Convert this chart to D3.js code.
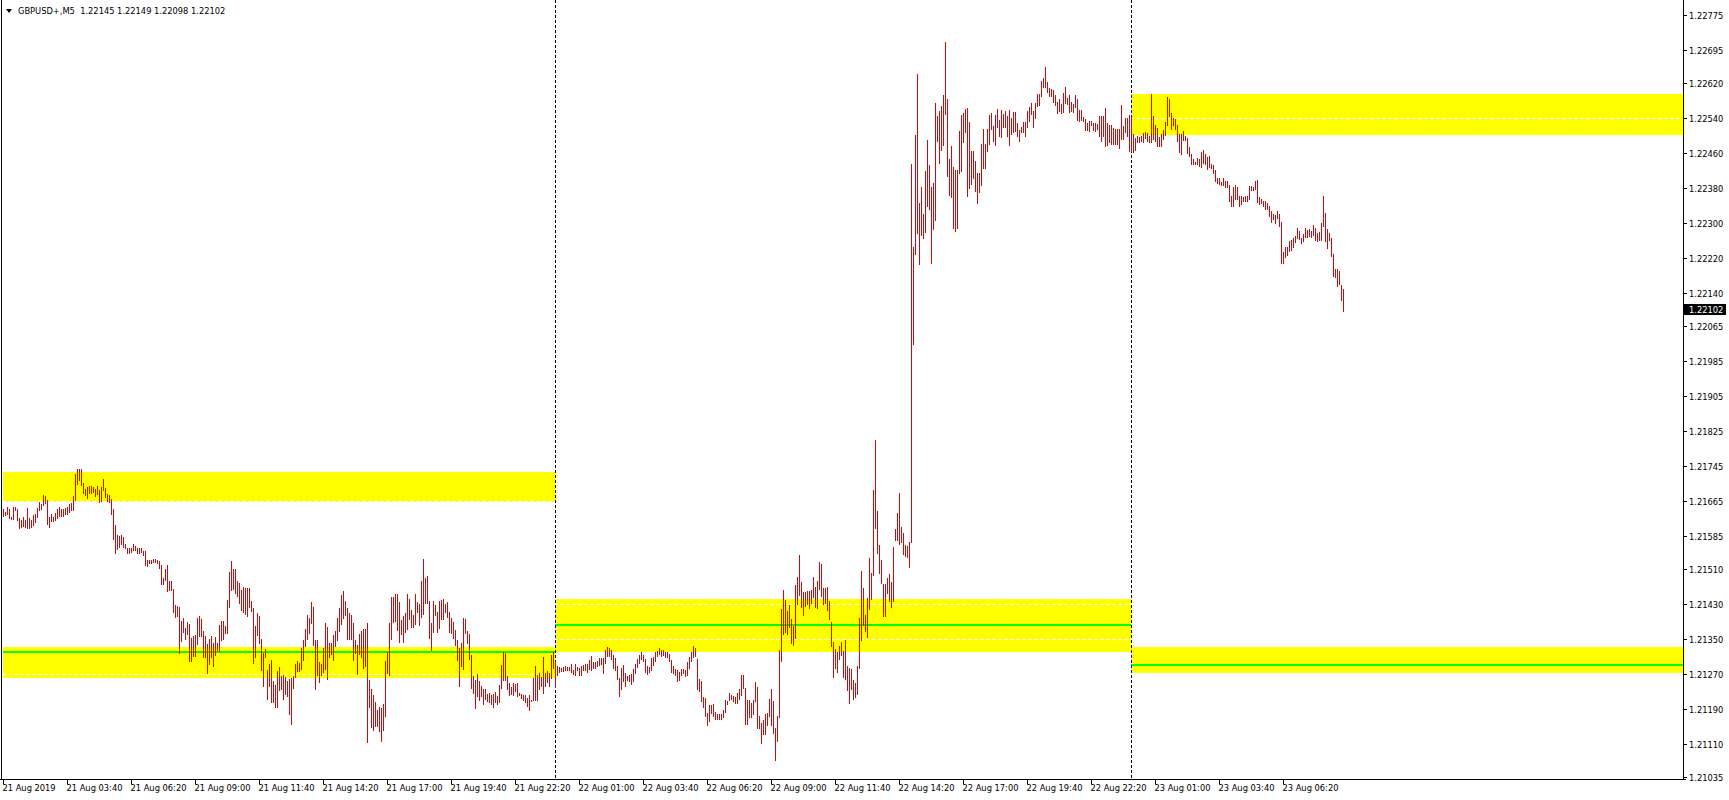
<!DOCTYPE html>
<html><head><meta charset="utf-8">
<script src="https://cdn.jsdelivr.net/npm/d3@7"></script>
<style>
html,body{margin:0;padding:0;background:#fff;overflow:hidden}
svg{display:block}
text{font-family:"DejaVu Sans",sans-serif;font-size:8.3px;fill:#000}
</style></head><body>
<svg id="chart" width="1729" height="800"></svg>
<script>
// ---------------- data ----------------
const symbol = "GBPUSD+,M5";
const lastOHLC = [1.22145, 1.22149, 1.22098, 1.22102];
const currentPrice = 1.22102;
// M5 bars, bar 0 = 21 Aug 2019 01:00
const highs = [
1.21647,1.21640,1.21650,1.21647,1.21629,1.21651,1.21650,1.21647,1.21626,1.21620,
1.21628,1.21620,1.21649,1.21626,1.21620,1.21632,1.21635,1.21649,1.21661,1.21658,
1.21679,1.21676,1.21666,1.21628,1.21635,1.21628,1.21636,1.21647,1.21651,1.21647,
1.21647,1.21649,1.21651,1.21658,1.21659,1.21676,1.21727,1.21738,1.21738,1.21738,
1.21705,1.21691,1.21697,1.21699,1.21698,1.21696,1.21691,1.21699,1.21690,1.21697,
1.21715,1.21695,1.21680,1.21677,1.21670,1.21646,1.21610,1.21586,1.21585,1.21586,
1.21583,1.21567,1.21557,1.21557,1.21557,1.21566,1.21561,1.21557,1.21557,1.21557,
1.21551,1.21551,1.21529,1.21530,1.21529,1.21531,1.21532,1.21530,1.21527,1.21519,
1.21488,1.21510,1.21519,1.21481,1.21481,1.21464,1.21426,1.21424,1.21422,1.21391,
1.21398,1.21375,1.21388,1.21384,1.21352,1.21356,1.21359,1.21397,1.21401,1.21395,
1.21368,1.21356,1.21337,1.21349,1.21356,1.21341,1.21353,1.21341,1.21381,1.21390,
1.21390,1.21380,1.21438,1.21502,1.21527,1.21509,1.21509,1.21481,1.21476,1.21462,
1.21468,1.21466,1.21466,1.21466,1.21436,1.21419,1.21379,1.21409,1.21402,1.21349,
1.21317,1.21327,1.21279,1.21292,1.21301,1.21254,1.21244,1.21276,1.21285,1.21265,
1.21267,1.21263,1.21254,1.21259,1.21260,1.21265,1.21292,1.21300,1.21295,1.21329,
1.21347,1.21372,1.21404,1.21397,1.21434,1.21422,1.21346,1.21347,1.21297,1.21292,
1.21329,1.21385,1.21376,1.21339,1.21339,1.21359,1.21368,1.21397,1.21419,1.21450,
1.21459,1.21436,1.21419,1.21409,1.21403,1.21386,1.21346,1.21336,1.21361,1.21368,
1.21372,1.21373,1.21385,1.21256,1.21235,1.21221,1.21206,1.21187,1.21193,1.21191,
1.21201,1.21300,1.21319,1.21386,1.21445,1.21446,1.21451,1.21453,1.21434,1.21393,
1.21402,1.21409,1.21453,1.21441,1.21416,1.21405,1.21452,1.21434,1.21429,1.21482,
1.21533,1.21489,1.21493,1.21435,1.21386,1.21437,1.21427,1.21410,1.21436,1.21438,
1.21441,1.21429,1.21434,1.21410,1.21397,1.21389,1.21369,1.21347,1.21329,1.21340,
1.21397,1.21395,1.21368,1.21361,1.21313,1.21265,1.21256,1.21269,1.21254,1.21241,
1.21234,1.21236,1.21223,1.21225,1.21221,1.21224,1.21228,1.21218,1.21244,1.21290,
1.21320,1.21317,1.21265,1.21248,1.21240,1.21248,1.21247,1.21248,1.21226,1.21223,
1.21221,1.21221,1.21215,1.21221,1.21210,1.21260,1.21288,1.21267,1.21272,1.21263,
1.21307,1.21272,1.21277,1.21272,1.21313,1.21320,1.21298,1.21288,1.21286,1.21284,
1.21286,1.21288,1.21285,1.21286,1.21293,1.21278,1.21292,1.21285,1.21282,1.21288,
1.21291,1.21292,1.21292,1.21301,1.21310,1.21297,1.21297,1.21298,1.21305,1.21306,
1.21306,1.21324,1.21331,1.21328,1.21323,1.21313,1.21306,1.21288,1.21260,1.21283,
1.21290,1.21272,1.21265,1.21266,1.21269,1.21281,1.21292,1.21303,1.21313,1.21320,
1.21312,1.21303,1.21288,1.21286,1.21306,1.21309,1.21319,1.21321,1.21329,1.21325,
1.21324,1.21320,1.21319,1.21314,1.21301,1.21288,1.21281,1.21279,1.21274,1.21281,
1.21281,1.21278,1.21297,1.21308,1.21319,1.21333,1.21328,1.21303,1.21258,1.21254,
1.21217,1.21215,1.21181,1.21199,1.21198,1.21201,1.21183,1.21177,1.21177,1.21177,
1.21187,1.21209,1.21208,1.21227,1.21222,1.21218,1.21216,1.21227,1.21234,1.21267,
1.21266,1.21238,1.21209,1.21210,1.21204,1.21209,1.21250,1.21239,1.21174,1.21158,
1.21165,1.21178,1.21180,1.21213,1.21234,1.21208,1.21146,1.21173,1.21324,1.21418,
1.21461,1.21439,1.21414,1.21428,1.21395,1.21380,1.21473,1.21491,1.21542,1.21479,
1.21456,1.21456,1.21459,1.21458,1.21462,1.21490,1.21468,1.21481,1.21526,1.21520,
1.21465,1.21466,1.21468,1.21435,1.21389,1.21343,1.21326,1.21320,1.21333,1.21342,
1.21322,1.21346,1.21288,1.21283,1.21280,1.21255,1.21248,1.21287,1.21397,1.21505,
1.21466,1.21404,1.21442,1.21535,1.21501,1.21689,1.21804,1.21642,1.21564,1.21529,
1.21474,1.21474,1.21489,1.21498,1.21479,1.21560,1.21601,1.21636,1.21683,1.21606,
1.21591,1.21565,1.21561,1.21571,1.22435,1.22244,1.22501,1.22640,1.22345,1.22382,
1.22320,1.22418,1.22488,1.22432,1.22382,1.22390,1.22574,1.22544,1.22555,1.22567,
1.22591,1.22713,1.22583,1.22445,1.22476,1.22428,1.22421,1.22421,1.22510,1.22546,
1.22551,1.22560,1.22562,1.22531,1.22464,1.22464,1.22441,1.22414,1.22414,1.22480,
1.22513,1.22480,1.22514,1.22547,1.22551,1.22521,1.22545,1.22560,1.22535,1.22558,
1.22549,1.22554,1.22544,1.22557,1.22539,1.22553,1.22553,1.22528,1.22512,1.22519,
1.22529,1.22529,1.22556,1.22564,1.22573,1.22556,1.22573,1.22595,1.22593,1.22624,
1.22630,1.22656,1.22621,1.22608,1.22605,1.22604,1.22592,1.22576,1.22582,1.22571,
1.22597,1.22610,1.22585,1.22592,1.22576,1.22570,1.22592,1.22583,1.22557,1.22558,
1.22541,1.22537,1.22527,1.22532,1.22533,1.22528,1.22528,1.22526,1.22544,1.22544,
1.22544,1.22563,1.22528,1.22524,1.22522,1.22517,1.22515,1.22513,1.22515,1.22569,
1.22521,1.22538,1.22540,1.22545,1.22541,1.22503,1.22494,1.22497,1.22495,1.22497,
1.22504,1.22506,1.22505,1.22498,1.22594,1.22544,1.22523,1.22516,1.22496,1.22503,
1.22512,1.22529,1.22588,1.22583,1.22551,1.22540,1.22536,1.22524,1.22503,1.22503,
1.22510,1.22499,1.22494,1.22473,1.22457,1.22446,1.22439,1.22448,1.22446,1.22462,
1.22465,1.22457,1.22449,1.22452,1.22435,1.22432,1.22421,1.22403,1.22403,1.22394,
1.22402,1.22396,1.22395,1.22385,1.22362,1.22382,1.22385,1.22382,1.22361,1.22360,
1.22359,1.22361,1.22360,1.22384,1.22384,1.22382,1.22396,1.22398,1.22359,1.22353,
1.22350,1.22350,1.22345,1.22338,1.22327,1.22319,1.22317,1.22326,1.22320,1.22302,
1.22234,1.22244,1.22245,1.22259,1.22261,1.22264,1.22270,1.22287,1.22282,1.22265,
1.22275,1.22288,1.22284,1.22286,1.22280,1.22294,1.22289,1.22277,1.22278,1.22299,
1.22361,1.22322,1.22286,1.22276,1.22265,1.22229,1.22195,1.22194,1.22190,1.22158,
1.22149];
const lows = [
1.21631,1.21633,1.21634,1.21625,1.21624,1.21624,1.21644,1.21621,1.21602,1.21604,
1.21607,1.21605,1.21602,1.21602,1.21605,1.21610,1.21616,1.21627,1.21644,1.21645,
1.21656,1.21660,1.21613,1.21606,1.21618,1.21618,1.21621,1.21626,1.21631,1.21631,
1.21631,1.21634,1.21635,1.21640,1.21644,1.21644,1.21667,1.21704,1.21713,1.21701,
1.21682,1.21677,1.21672,1.21682,1.21683,1.21686,1.21676,1.21681,1.21662,1.21665,
1.21690,1.21674,1.21664,1.21663,1.21634,1.21577,1.21545,1.21554,1.21559,1.21567,
1.21559,1.21557,1.21545,1.21545,1.21548,1.21553,1.21553,1.21545,1.21545,1.21548,
1.21540,1.21518,1.21515,1.21522,1.21522,1.21525,1.21526,1.21522,1.21512,1.21475,
1.21475,1.21484,1.21459,1.21461,1.21462,1.21412,1.21399,1.21401,1.21318,1.21344,
1.21366,1.21350,1.21360,1.21299,1.21299,1.21311,1.21311,1.21337,1.21355,1.21355,
1.21307,1.21307,1.21272,1.21292,1.21309,1.21288,1.21313,1.21323,1.21322,1.21346,
1.21349,1.21363,1.21364,1.21423,1.21461,1.21464,1.21454,1.21448,1.21432,1.21416,
1.21410,1.21406,1.21402,1.21423,1.21414,1.21295,1.21307,1.21358,1.21339,1.21278,
1.21243,1.21308,1.21213,1.21243,1.21206,1.21206,1.21193,1.21193,1.21233,1.21234,
1.21212,1.21224,1.21218,1.21179,1.21154,1.21238,1.21263,1.21276,1.21276,1.21281,
1.21302,1.21333,1.21349,1.21362,1.21385,1.21335,1.21236,1.21266,1.21252,1.21267,
1.21274,1.21280,1.21257,1.21307,1.21316,1.21302,1.21333,1.21347,1.21368,1.21384,
1.21398,1.21405,1.21349,1.21349,1.21349,1.21301,1.21317,1.21270,1.21314,1.21308,
1.21284,1.21288,1.21113,1.21195,1.21149,1.21141,1.21150,1.21150,1.21138,1.21117,
1.21142,1.21174,1.21272,1.21266,1.21349,1.21388,1.21391,1.21370,1.21343,1.21360,
1.21342,1.21366,1.21373,1.21394,1.21377,1.21376,1.21384,1.21410,1.21381,1.21400,
1.21407,1.21432,1.21431,1.21352,1.21323,1.21365,1.21403,1.21366,1.21374,1.21396,
1.21395,1.21410,1.21399,1.21365,1.21363,1.21352,1.21335,1.21301,1.21241,1.21288,
1.21280,1.21363,1.21341,1.21303,1.21238,1.21225,1.21192,1.21218,1.21209,1.21220,
1.21201,1.21212,1.21207,1.21205,1.21200,1.21195,1.21206,1.21201,1.21206,1.21237,
1.21256,1.21255,1.21234,1.21222,1.21224,1.21222,1.21231,1.21218,1.21221,1.21215,
1.21210,1.21206,1.21197,1.21188,1.21208,1.21209,1.21209,1.21209,1.21235,1.21242,
1.21225,1.21241,1.21250,1.21241,1.21260,1.21282,1.21239,1.21266,1.21275,1.21276,
1.21277,1.21279,1.21278,1.21279,1.21273,1.21269,1.21268,1.21279,1.21268,1.21268,
1.21279,1.21278,1.21275,1.21280,1.21279,1.21283,1.21283,1.21288,1.21291,1.21293,
1.21272,1.21295,1.21310,1.21310,1.21304,1.21284,1.21279,1.21258,1.21220,1.21235,
1.21253,1.21243,1.21255,1.21253,1.21247,1.21254,1.21272,1.21285,1.21295,1.21304,
1.21300,1.21275,1.21270,1.21274,1.21279,1.21290,1.21300,1.21310,1.21316,1.21310,
1.21313,1.21309,1.21307,1.21298,1.21274,1.21272,1.21267,1.21253,1.21256,1.21268,
1.21271,1.21264,1.21266,1.21284,1.21300,1.21309,1.21311,1.21235,1.21231,1.21208,
1.21194,1.21174,1.21153,1.21163,1.21180,1.21173,1.21167,1.21167,1.21167,1.21167,
1.21172,1.21183,1.21201,1.21210,1.21212,1.21207,1.21202,1.21202,1.21212,1.21222,
1.21238,1.21155,1.21155,1.21170,1.21170,1.21178,1.21207,1.21145,1.21145,1.21112,
1.21133,1.21133,1.21153,1.21174,1.21152,1.21135,1.21072,1.21117,1.21172,1.21298,
1.21361,1.21365,1.21361,1.21376,1.21341,1.21335,1.21352,1.21430,1.21449,1.21423,
1.21403,1.21425,1.21430,1.21420,1.21432,1.21446,1.21423,1.21419,1.21464,1.21447,
1.21429,1.21431,1.21416,1.21396,1.21333,1.21262,1.21284,1.21274,1.21304,1.21313,
1.21262,1.21259,1.21232,1.21204,1.21236,1.21212,1.21217,1.21223,1.21283,1.21347,
1.21381,1.21368,1.21353,1.21417,1.21440,1.21496,1.21602,1.21546,1.21501,1.21478,
1.21401,1.21401,1.21454,1.21436,1.21423,1.21437,1.21575,1.21575,1.21567,1.21571,
1.21544,1.21539,1.21536,1.21513,1.21571,1.22022,1.22228,1.22277,1.22205,1.22272,
1.22266,1.22279,1.22338,1.22331,1.22209,1.22286,1.22307,1.22486,1.22437,1.22465,
1.22478,1.22549,1.22406,1.22363,1.22358,1.22288,1.22282,1.22288,1.22413,1.22419,
1.22485,1.22508,1.22362,1.22380,1.22388,1.22401,1.22373,1.22344,1.22371,1.22387,
1.22426,1.22426,1.22464,1.22480,1.22514,1.22487,1.22478,1.22519,1.22497,1.22495,
1.22519,1.22519,1.22499,1.22478,1.22503,1.22507,1.22509,1.22497,1.22487,1.22506,
1.22507,1.22499,1.22519,1.22533,1.22549,1.22519,1.22540,1.22567,1.22569,1.22590,
1.22610,1.22611,1.22599,1.22589,1.22590,1.22576,1.22569,1.22550,1.22556,1.22550,
1.22552,1.22574,1.22571,1.22553,1.22555,1.22553,1.22565,1.22535,1.22532,1.22535,
1.22533,1.22512,1.22512,1.22510,1.22522,1.22512,1.22510,1.22514,1.22499,1.22487,
1.22498,1.22475,1.22477,1.22484,1.22479,1.22479,1.22479,1.22479,1.22471,1.22492,
1.22492,1.22508,1.22497,1.22464,1.22464,1.22462,1.22465,1.22484,1.22484,1.22487,
1.22485,1.22493,1.22487,1.22485,1.22485,1.22491,1.22487,1.22474,1.22474,1.22474,
1.22491,1.22501,1.22522,1.22544,1.22515,1.22522,1.22515,1.22487,1.22462,1.22458,
1.22489,1.22489,1.22460,1.22453,1.22433,1.22433,1.22433,1.22433,1.22429,1.22427,
1.22436,1.22433,1.22423,1.22428,1.22426,1.22414,1.22396,1.22391,1.22388,1.22386,
1.22385,1.22381,1.22381,1.22350,1.22337,1.22338,1.22354,1.22354,1.22337,1.22342,
1.22350,1.22350,1.22350,1.22354,1.22375,1.22375,1.22377,1.22347,1.22342,1.22344,
1.22338,1.22332,1.22332,1.22316,1.22302,1.22308,1.22300,1.22311,1.22293,1.22207,
1.22207,1.22222,1.22227,1.22236,1.22238,1.22245,1.22256,1.22266,1.22263,1.22253,
1.22259,1.22267,1.22268,1.22269,1.22268,1.22271,1.22260,1.22258,1.22261,1.22260,
1.22293,1.22259,1.22243,1.22261,1.22225,1.22179,1.22176,1.22156,1.22159,1.22124,
1.22098];

const timeLabels = ["21 Aug 2019","21 Aug 03:40","21 Aug 06:20","21 Aug 09:00","21 Aug 11:40","21 Aug 14:20","21 Aug 17:00","21 Aug 19:40","21 Aug 22:20","22 Aug 01:00","22 Aug 03:40","22 Aug 06:20","22 Aug 09:00","22 Aug 11:40","22 Aug 14:20","22 Aug 17:00","22 Aug 19:40","22 Aug 22:20","23 Aug 01:00","23 Aug 03:40","23 Aug 06:20"];
const timeLabelBars = [0,32,64,96,128,160,192,224,256,288,320,352,384,416,448,480,512,544,576,608,640];
const priceTicks = [1.22775,1.22695,1.22620,1.22540,1.22460,1.22380,1.22300,1.22220,1.22140,1.22065,1.21985,1.21905,1.21825,1.21745,1.21665,1.21585,1.21510,1.21430,1.21350,1.21270,1.21190,1.21110,1.21035];
const daySeparatorBars = [276, 564];          // 22 Aug 00:00, 23 Aug 00:00
// supply / demand zones (bar index span, price band, optional mid line)
const zoneStart  = [-12, -12, 276, 564, 564];
const zoneEnd    = [276, 276, 564, 852, 852];
const zoneTop    = [1.21731, 1.21331, 1.21441, 1.22593, 1.21331];
const zoneBottom = [1.21661, 1.21261, 1.21320, 1.22500, 1.21272];
const zoneMid    = [null, 1.21320, 1.21382, null, 1.21291];

// ---------------- drawing ----------------
const W = 1729, H = 800;
const plot = {left: 2, right: 1683, top: 0, bottom: 779};
const svg = d3.select("#chart");
svg.append("rect").attr("width", W).attr("height", H).attr("fill", "#fff");

const x = d3.scaleLinear().domain([0, 670]).range([3.5, 1343.5]);
const y = d3.scaleLinear().domain([1.21035, 1.22775]).range([776.6, 14.7]);
const edge = i => x(i) - 0.5;   // left pixel edge of a bar slot
const fmt = d3.format(".5f");

const defs = svg.append("defs");
defs.append("clipPath").attr("id", "plotclip").append("rect")
  .attr("x", plot.left + 1).attr("y", plot.top)
  .attr("width", plot.right - plot.left - 1).attr("height", plot.bottom - plot.top);

const zones = zoneStart.map((s, k) => ({s, e: zoneEnd[k], t: zoneTop[k], b: zoneBottom[k], m: zoneMid[k]}));
const zx = d => edge(d.s), zw = d => edge(d.e) - edge(d.s);
const zy = d => Math.round(y(d.t)), zh = d => Math.round(y(d.b)) - Math.round(y(d.t));

defs.append("clipPath").attr("id", "zoneclip").selectAll("rect").data(zones).join("rect")
  .attr("x", zx).attr("width", zw).attr("y", zy).attr("height", zh);

const g = svg.append("g").attr("clip-path", "url(#plotclip)");

// yellow zones
g.selectAll("rect.zone").data(zones).join("rect").attr("class", "zone")
  .attr("x", zx).attr("width", zw).attr("y", zy).attr("height", zh)
  .attr("fill", "#ffff00").attr("shape-rendering", "crispEdges");

// horizontal grid (white, dotted) – only visible over the yellow zones
g.selectAll("line.grid").data(priceTicks).join("line").attr("class", "grid")
  .attr("x1", plot.left).attr("x2", plot.right)
  .attr("y1", d => Math.round(y(d)) + 0.5).attr("y2", d => Math.round(y(d)) + 0.5)
  .attr("stroke", "#fff").attr("stroke-width", 1).attr("stroke-dasharray", "4,2")
  .attr("shape-rendering", "crispEdges");

// green mid lines
g.selectAll("rect.mid").data(zones.filter(d => d.m !== null)).join("rect").attr("class", "mid")
  .attr("x", zx).attr("width", zw)
  .attr("y", d => Math.round(y(d.m)) - 1).attr("height", 2)
  .attr("fill", "#00ff00").attr("shape-rendering", "crispEdges");

// day separators: black dots on white, blue where they cross a yellow zone
g.selectAll("line.sep").data(daySeparatorBars).join("line").attr("class", "sep")
  .attr("x1", d => x(d)).attr("x2", d => x(d))
  .attr("y1", plot.top).attr("y2", plot.bottom)
  .attr("stroke", "#000").attr("stroke-width", 1).attr("stroke-dasharray", "3,2")
  .attr("shape-rendering", "crispEdges");
g.append("g").attr("clip-path", "url(#zoneclip)")
  .selectAll("line").data(daySeparatorBars).join("line")
  .attr("x1", d => x(d)).attr("x2", d => x(d))
  .attr("y1", plot.top).attr("y2", plot.bottom)
  .attr("stroke", "#0000ff").attr("stroke-width", 1).attr("stroke-dasharray", "3,2")
  .attr("shape-rendering", "crispEdges");

// price bars (high-low)
const bars = highs.map((h, i) => ({i, h, l: lows[i]}));
g.selectAll("rect.bar").data(bars).join("rect").attr("class", "bar")
  .attr("x", d => edge(d.i)).attr("width", 1)
  .attr("y", d => Math.round(y(d.h)))
  .attr("height", d => Math.max(1, Math.round(y(d.l)) - Math.round(y(d.h)) + 1))
  .attr("fill", "#e60000").attr("shape-rendering", "crispEdges");

// frame
const frame = svg.append("g").attr("stroke", "#000").attr("stroke-width", 1).attr("shape-rendering", "crispEdges");
frame.append("line").attr("x1", 1.5).attr("x2", 1.5).attr("y1", 0).attr("y2", plot.bottom + 0.5);
frame.append("line").attr("x1", 0).attr("x2", plot.right + 3).attr("y1", plot.bottom + 0.5).attr("y2", plot.bottom + 0.5);
frame.append("line").attr("x1", plot.right + 0.5).attr("x2", plot.right + 0.5).attr("y1", 0).attr("y2", plot.bottom + 0.5);

// right price axis
const ya = svg.append("g");
ya.selectAll("line").data(priceTicks).join("line")
  .attr("x1", plot.right).attr("x2", plot.right + 4)
  .attr("y1", d => Math.round(y(d)) + 0.5).attr("y2", d => Math.round(y(d)) + 0.5)
  .attr("stroke", "#000").attr("shape-rendering", "crispEdges");
ya.selectAll("text").data(priceTicks).join("text")
  .attr("x", plot.right + 6).attr("y", d => Math.round(y(d)) + 3.5)
  .text(d => fmt(d));

// current price marker
const cy = Math.round(y(currentPrice));
svg.append("rect").attr("x", plot.right + 1).attr("y", cy - 5).attr("width", 42).attr("height", 11).attr("fill", "#000");
svg.append("text").attr("x", plot.right + 6).attr("y", cy + 3.5).style("fill", "#fff").text(fmt(currentPrice));

// time axis
const xa = svg.append("g");
xa.selectAll("line").data(timeLabelBars).join("line")
  .attr("x1", d => x(d)).attr("x2", d => x(d))
  .attr("y1", plot.bottom).attr("y2", plot.bottom + 5)
  .attr("stroke", "#000").attr("shape-rendering", "crispEdges");
xa.selectAll("text").data(timeLabelBars).join("text")
  .attr("x", d => x(d) - 1).attr("y", 791)
  .text((d, k) => timeLabels[k]);

// header
svg.append("path").attr("d", "M6,9 L12,9 L9,13 Z").attr("fill", "#000");
svg.append("text").attr("x", 18).attr("y", 14)
  .text(symbol + "  " + lastOHLC.map(fmt).join(" "))
  .attr("xml:space", "preserve").style("white-space", "pre");
</script>
</body></html>
